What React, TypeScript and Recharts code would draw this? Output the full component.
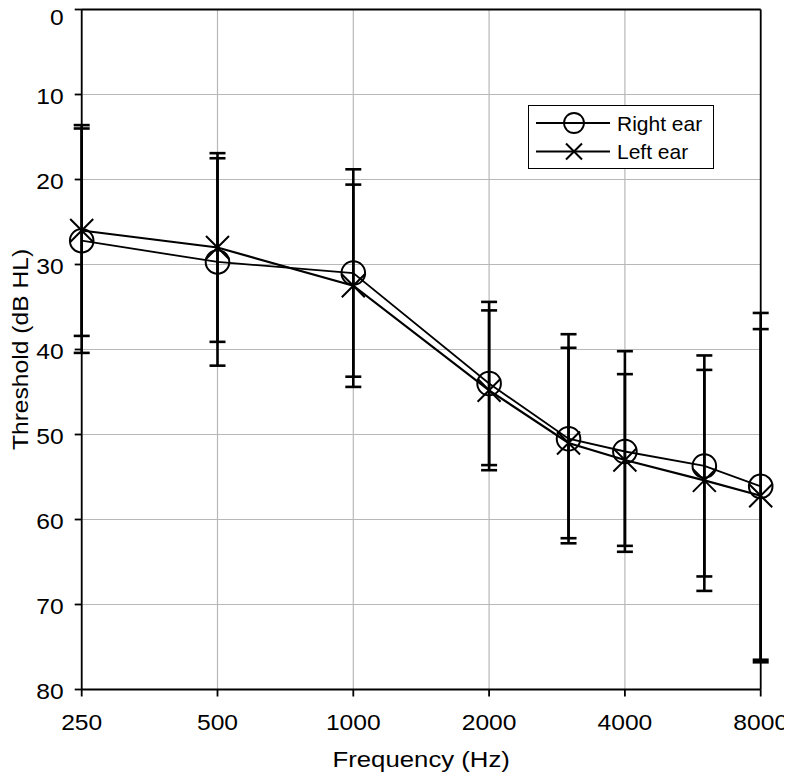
import React from "react";
import {
  LineChart,
  Line,
  XAxis,
  YAxis,
  CartesianGrid,
  ErrorBar,
  Legend,
  Label,
} from "recharts";

// audiogram, mean threshold +/- SD per ear
const freqs = [250, 500, 1000, 2000, 3000, 4000, 6000, 8000];
const rightEar = [27.2, 29.7, 31.0, 44.0, 50.5, 52.0, 53.7, 56.1];
const rightSd = [13.2, 12.2, 12.2, 9.6, 12.3, 11.8, 13.0, 20.4];
const leftEar = [26.0, 28.0, 32.5, 44.8, 51.0, 53.0, 55.4, 57.2];
const leftSd = [12.4, 11.1, 11.9, 9.4, 11.2, 10.1, 13.0, 19.6];

const seriesNames = ["Right ear", "Left ear"];
const xTicks = [250, 500, 1000, 2000, 4000, 8000];
const yTicks = [0, 10, 20, 30, 40, 50, 60, 70, 80];

const data = freqs.map((f, i) => ({
  freq: f,
  right: rightEar[i],
  rightErr: rightSd[i],
  left: leftEar[i],
  leftErr: leftSd[i],
}));

const FONT = "'Liberation Sans', Arial, sans-serif";

const CircleDot = (props: any) => {
  const { cx, cy, index } = props;
  return (
    <circle key={"c" + index} cx={cx} cy={cy} r={11.8} fill="none" stroke="#000" strokeWidth={2} />
  );
};

const CrossDot = (props: any) => {
  const { cx, cy, index } = props;
  const s = 11.5;
  return (
    <path
      key={"x" + index}
      d={`M${cx - s},${cy - s}L${cx + s},${cy + s}M${cx + s},${cy - s}L${cx - s},${cy + s}`}
      stroke="#000"
      strokeWidth={2}
      fill="none"
    />
  );
};

const XTick = (props: any) => {
  const { x, y, payload } = props;
  return (
    <text
      transform={`translate(${x},${y}) scale(1.12,1)`}
      dy="0.71em"
      textAnchor="middle"
      fontSize={22}
      fontFamily={FONT}
      fill="#000"
    >
      {payload.value}
    </text>
  );
};

const YTick = (props: any) => {
  const { x, y, payload } = props;
  // keep the top label inside the page
  const shift = payload.value === 0 ? 6 : 0;
  return (
    <text
      transform={`translate(${x},${y + shift}) scale(1.12,1)`}
      dy="0.42em"
      textAnchor="end"
      fontSize={22}
      fontFamily={FONT}
      fill="#000"
    >
      {payload.value}
    </text>
  );
};

const LegendBox = (props: any) => {
  const items = [...(props.payload || [])].sort(
    (a: any, b: any) => seriesNames.indexOf(a.value) - seriesNames.indexOf(b.value)
  );
  return (
    <div
      style={{
        border: "1.5px solid #000",
        background: "#fff",
        width: 186,
        height: 64,
        boxSizing: "border-box",
      }}
    >
      <svg width={183} height={61} style={{ display: "block" }}>
        {items.map((it: any, i: number) => {
          const cy = 17 + i * 28.5;
          return (
            <g key={it.value}>
              <line x1={7} x2={81} y1={cy} y2={cy} stroke="#000" strokeWidth={1.8} />
              {it.value === "Right ear" ? (
                <circle cx={45} cy={cy} r={10} fill="none" stroke="#000" strokeWidth={1.8} />
              ) : (
                <path
                  d={`M37,${cy - 8}L53,${cy + 8}M53,${cy - 8}L37,${cy + 8}`}
                  stroke="#000"
                  strokeWidth={2}
                />
              )}
              <text x={88} y={cy + 7.5} fontSize={21} fontFamily={FONT} fill="#000">
                {it.value}
              </text>
            </g>
          );
        })}
      </svg>
    </div>
  );
};

export default function App() {
  return (
    <div style={{ width: 784, height: 769, background: "#fff" }}>
      <LineChart
        width={784}
        height={769}
        data={data}
        margin={{ top: 0, right: 0, bottom: 0, left: 0 }}
      >
        <CartesianGrid stroke="#b8b8b8" strokeWidth={1.2} />
        <XAxis
          dataKey="freq"
          type="number"
          scale="log"
          domain={[250, 8000]}
          ticks={xTicks}
          interval={0}
          height={87.5}
          tickSize={7}
          tickMargin={18}
          tick={<XTick />}
          axisLine={{ stroke: "#000", strokeWidth: 1.8 }}
          tickLine={{ stroke: "#000", strokeWidth: 1.8 }}
        >
          <Label
            content={(p: any) => {
              const vb = p.viewBox;
              const cx = vb.x + vb.width / 2;
              const cy = vb.y + 77;
              return (
                <text
                  transform={`translate(${cx},${cy}) scale(1.12,1)`}
                  textAnchor="middle"
                  fontSize={23}
                  fontFamily={FONT}
                  fill="#000"
                >
                  Frequency (Hz)
                </text>
              );
            }}
          />
        </XAxis>
        <XAxis
          xAxisId="top"
          orientation="top"
          dataKey="freq"
          type="number"
          scale="log"
          domain={[250, 8000]}
          ticks={xTicks}
          height={1.5}
          tick={false}
          tickLine={false}
          axisLine={{ stroke: "#000", strokeWidth: 1.8 }}
        />
        <YAxis
          reversed
          domain={[0, 80]}
          ticks={yTicks}
          interval={0}
          width={73.7}
          tickSize={7}
          tickMargin={11}
          tick={<YTick />}
          axisLine={{ stroke: "#000", strokeWidth: 1.8 }}
          tickLine={{ stroke: "#000", strokeWidth: 1.8 }}
        >
          <Label
            content={(p: any) => {
              const vb = p.viewBox;
              const cx = 20;
              const cy = vb.y + vb.height / 2;
              return (
                <text
                  transform={`translate(${cx},${cy}) rotate(-90) scale(1.12,1)`}
                  textAnchor="middle"
                  fontSize={22}
                  fontFamily={FONT}
                  fill="#000"
                >
                  Threshold (dB HL)
                </text>
              );
            }}
          />
        </YAxis>
        <YAxis
          yAxisId="right"
          orientation="right"
          reversed
          domain={[0, 80]}
          ticks={yTicks}
          interval={0}
          width={31.3}
          tickSize={7}
          tick={false}
          axisLine={{ stroke: "#000", strokeWidth: 1.8 }}
          tickLine={{ stroke: "#000", strokeWidth: 1.8 }}
        />
        <Legend
          layout="vertical"
          align="center"
          verticalAlign="middle"
          content={<LegendBox />}
          wrapperStyle={{ left: 520, top: 97, width: 186, height: 64 }}
        />
        <Line
          name="Right ear"
          dataKey="right"
          stroke="#000"
          strokeWidth={1.8}
          dot={<CircleDot />}
          isAnimationActive={false}
        >
          <ErrorBar dataKey="rightErr" direction="y" width={8} stroke="#000" strokeWidth={2.6} />
        </Line>
        <Line
          name="Left ear"
          dataKey="left"
          stroke="#000"
          strokeWidth={2.2}
          dot={<CrossDot />}
          isAnimationActive={false}
        >
          <ErrorBar dataKey="leftErr" direction="y" width={8} stroke="#000" strokeWidth={2.6} />
        </Line>
      </LineChart>
    </div>
  );
}
